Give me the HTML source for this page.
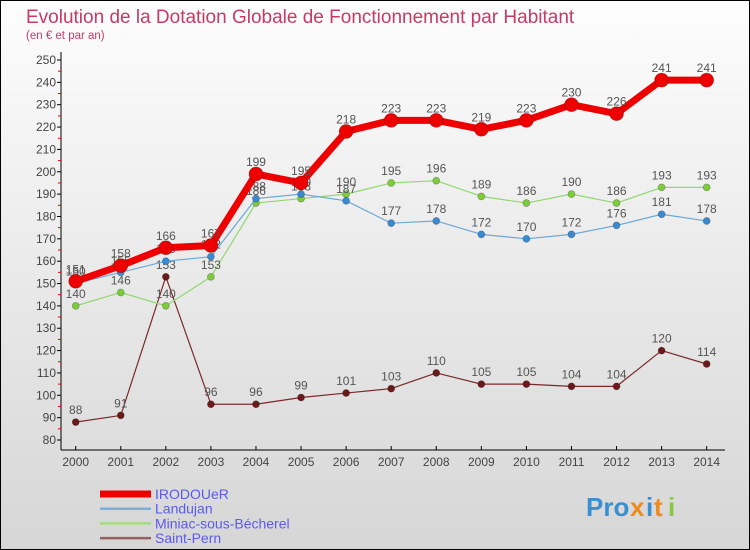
<!DOCTYPE html>
<html><head><meta charset="utf-8"><style>
body{margin:0;}
#c{width:750px;height:550px;position:relative;box-sizing:border-box;border:1px solid #000;background:linear-gradient(#fdfdfd,#d6d6d6);overflow:hidden;font-family:"Liberation Sans",sans-serif;}
</style></head><body>
<div id="c">
<svg id="s" width="750" height="550" style="position:absolute;left:-1px;top:-1px">
<text x="26" y="23" font-size="19" fill="#c83a64">Evolution de la Dotation Globale de Fonctionnement par Habitant</text>
<text x="26" y="39" font-size="11.5" fill="#c83a64">(en € et par an)</text>
<g id="axes"></g><g id="series"></g><g id="legend"></g>
<g font-size="26" font-weight="bold">
<text x="586" y="516" fill="#3a8fd0">Pro</text><text x="630" y="516" fill="#f08a1a">x</text><text x="646" y="516" fill="#3a8fd0">i</text><text x="654" y="516" fill="#f08a1a">t</text><text x="668" y="516" fill="#8cc63f">i</text>
</g>
</svg>
</div>
<script>
const years=[2000,2001,2002,2003,2004,2005,2006,2007,2008,2009,2010,2011,2012,2013,2014];
const irodouer=[151,158,166,167,199,195,218,223,223,219,223,230,226,241,241];
const landujan=[150,155,160,162,188,190,187,177,178,172,170,172,176,181,178];
const miniac=[140,146,140,153,186,188,190,195,196,189,186,190,186,193,193];
const saintPern=[88,91,153,96,96,99,101,103,110,105,105,104,104,120,114];
const yTicks=[80,90,100,110,120,130,140,150,160,170,180,190,200,210,220,230,240,250];
const NS="http://www.w3.org/2000/svg";
const xs=i=>75.7+i*45.07;
const ys=v=>440-(v-80)*(380/170);
function mk(tag,attrs,parent){const e=document.createElementNS(NS,tag);for(const k in attrs)e.setAttribute(k,attrs[k]);parent.appendChild(e);return e;}
const ax=document.getElementById('axes');
let l=mk('line',{x1:61,y1:52,x2:61,y2:450,stroke:'#000'},ax);


l=mk('line',{x1:61,y1:450,x2:725,y2:450,stroke:'#000'},ax);


yTicks.forEach(v=>{
  mk('line',{x1:57,x2:61,y1:ys(v),y2:ys(v),stroke:'#000'},ax);
  if(v<250)mk('line',{x1:58,x2:61,y1:ys(v+5),y2:ys(v+5),stroke:'#e00'},ax);
  const t=mk('text',{x:56,y:ys(v)+4,'text-anchor':'end','font-size':12,fill:'#444'},ax);
  t.textContent=v;
  
  
});
years.forEach((y,i)=>{
  mk('line',{x1:xs(i),x2:xs(i),y1:446,y2:450,stroke:'#000'},ax);
  const t=mk('text',{x:xs(i),y:466,'text-anchor':'middle','font-size':12,fill:'#444'},ax);
  t.textContent=y;
  
  
});
const sg=document.getElementById('series');
const series=[
 {name:'saint-pern',d:saintPern,line:'#7a2a2a',dot:'#6b1a1a',w:1.2,r:3.5},
 {name:'miniac',d:miniac,line:'#90d870',dot:'#7ccc3c',w:1.2,r:3.5},
 {name:'landujan',d:landujan,line:'#6aa8d8',dot:'#3a8ad0',w:1.2,r:3.5},
 {name:'irodouer',d:irodouer,line:'#ee0000',dot:'#ee0000',w:7,r:7}
];
series.forEach(s=>{
  const g=mk('g',{},sg);
  
  
  const p=mk('polyline',{points:s.d.map((v,i)=>xs(i)+','+ys(v)).join(' '),fill:'none',stroke:s.line,'stroke-width':s.w,'stroke-linejoin':'round'},g);
  
  
  s.d.forEach((v,i)=>{
    const c=mk('circle',{cx:xs(i),cy:ys(v),r:s.r,fill:s.dot,stroke:'rgba(0,0,0,0.25)','stroke-width':0.8},g);
    
    
    const t=mk('text',{x:xs(i),y:ys(v)-8,'text-anchor':'middle','font-size':12,fill:'#555'},g);
    t.textContent=v;
    
    
  });
});
const lg=document.getElementById('legend');
const legendItems=[['IRODOUeR','#ee0000',7],['Landujan','#7ab0d8',2.5],['Miniac-sous-Bécherel','#a0dc80',2.5],['Saint-Pern','#946060',2.5]];
legendItems.forEach((it,i)=>{
  const y=494+i*14.7;
  const g=mk('g',{},lg);
  
  
  mk('line',{x1:100,x2:151,y1:y,y2:y,stroke:it[1],'stroke-width':it[2]},g);
  const t=mk('text',{x:155,y:y+5,'font-size':14,fill:'#5a5aee'},g);
  t.textContent=it[0];
});
</script>
</body></html>
